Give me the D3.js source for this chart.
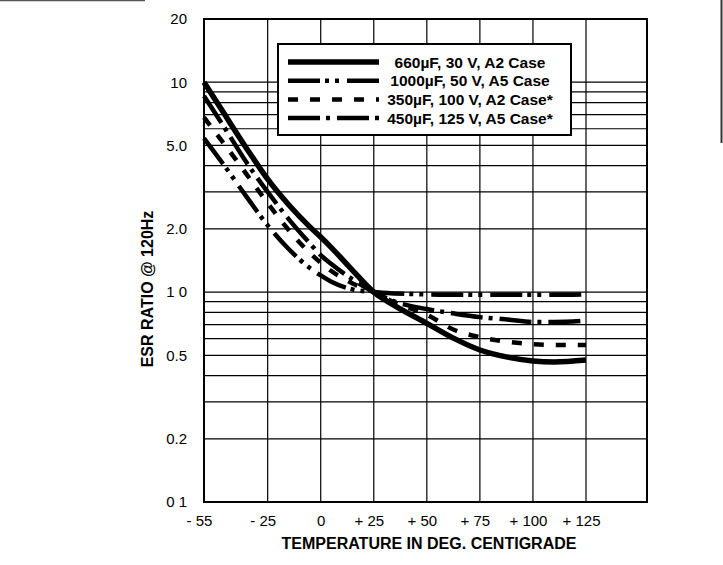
<!DOCTYPE html>
<html>
<head>
<meta charset="utf-8">
<script src="https://cdn.jsdelivr.net/npm/d3@7"></script>
<style>
  body { margin: 0; background: #fff; }
  svg { display: block; font-family: Arial, "Liberation Sans", Helvetica, sans-serif; }
</style>
</head>
<body>
<svg id="chart" width="723" height="565"></svg>
<script>
"use strict";

// values
const temperatures = [-55, -45, -35, -25, -15, -5, 0, 5, 15, 25, 35, 50, 63, 75, 88, 100, 110, 125];
const esr660 = [10, 6.95, 4.85, 3.45, 2.6, 2.04, 1.83, 1.63, 1.27, 1.0, 0.86, 0.71, 0.6, 0.53, 0.49, 0.47, 0.465, 0.475];
const esr1000 = [5.4, 3.95, 2.85, 2.08, 1.6, 1.3, 1.2, 1.12, 1.03, 1.0, 0.985, 0.975, 0.97, 0.97, 0.97, 0.97, 0.97, 0.975];
const esr350 = [6.8, 5.0, 3.65, 2.65, 1.97, 1.53, 1.38, 1.26, 1.1, 1.0, 0.89, 0.78, 0.66, 0.61, 0.58, 0.565, 0.56, 0.56];
const esr450 = [8.6, 6.0, 4.15, 3.0, 2.22, 1.7, 1.5, 1.36, 1.15, 1.0, 0.9, 0.83, 0.79, 0.76, 0.74, 0.72, 0.72, 0.73];

const seriesNames = [
    "660\u00b5F, 30 V, A2 Case",
    "1000\u00b5F, 50 V, A5 Case",
    "350\u00b5F, 100 V, A2 Case*",
    "450\u00b5F, 125 V, A5 Case*",
];

const xTicks = [-55, -25, 0, 25, 50, 75, 100, 125];
const xTickLabels = ["- 55", "- 25", "0", "+ 25", "+ 50", "+ 75", "+ 100", "+ 125"];
const yTicks = [20, 10, 5, 2, 1, 0.5, 0.2, 0.1];
const yTickLabels = ["20", "10", "5.0", "2.0", "1 0", "0.5", "0.2", "0 1"];
const yGrid = [0.2, 0.3, 0.4, 0.5, 0.6, 0.7, 0.8, 0.9, 1, 2, 3, 4, 5, 6, 7, 8, 9, 10];

const series = [esr660, esr1000, esr350, esr450];
const styles = [
    { width: 5.5, dash: null },
    { width: 4.5, dash: "32,5,4,6,4,8" },
    { width: 4.5, dash: "10,12" },
    { width: 4.5, dash: "32,6,4,7" },
];

const svg = d3.select("#chart");

const x = d3.scaleLinear().domain([-55, 125]).range([204, 586]);
const y = d3.scaleLog().domain([0.1, 20]).range([502, 19]);
const plotLeft = x(-55), plotRight = x(125) + 61, plotTop = y(20), plotBottom = y(0.1);

// grid
svg.append("g")
    .selectAll("line")
    .data(yGrid)
    .join("line")
    .attr("x1", plotLeft).attr("x2", plotRight)
    .attr("y1", d => y(d)).attr("y2", d => y(d))
    .attr("stroke", "#000").attr("stroke-width", 1.2);

svg.append("g")
    .selectAll("line")
    .data(xTicks.slice(1))
    .join("line")
    .attr("x1", d => x(d)).attr("x2", d => x(d))
    .attr("y1", plotTop).attr("y2", plotBottom)
    .attr("stroke", "#000").attr("stroke-width", 1.2);

svg.append("rect")
    .attr("x", plotLeft).attr("y", plotTop)
    .attr("width", plotRight - plotLeft).attr("height", plotBottom - plotTop)
    .attr("fill", "none").attr("stroke", "#000").attr("stroke-width", 2);

// axes (labels only)
const yAxis = svg.append("g")
    .attr("transform", `translate(${plotLeft},0)`)
    .call(d3.axisLeft(y).tickValues(yTicks).tickFormat((d, i) => yTickLabels[i]).tickSize(0).tickPadding(17));
yAxis.select(".domain").remove();
yAxis.attr("font-family", null);
yAxis.selectAll("text").attr("font-size", 15).attr("fill", "#000");

const xAxis = svg.append("g")
    .attr("transform", `translate(0,${plotBottom})`)
    .call(d3.axisBottom(x).tickValues(xTicks).tickFormat((d, i) => xTickLabels[i]).tickSize(0).tickPadding(13));
xAxis.select(".domain").remove();
xAxis.attr("font-family", null);
xAxis.selectAll("text")
    .attr("font-size", 15).attr("fill", "#000")
    .attr("dx", (d, i) => xTickLabels[i].length > 1 ? -5 : 0);

// curves
const line = d3.line()
    .x((d, i) => x(temperatures[i]))
    .y(d => y(d))
    .curve(d3.curveMonotoneX);

series.forEach((values, i) => {
    svg.append("path")
        .attr("fill", "none")
        .attr("stroke", "#000")
        .attr("stroke-width", styles[i].width)
        .attr("stroke-dasharray", styles[i].dash)
        .attr("d", line(values));
});

// legend
const legend = svg.append("g");
legend.append("rect")
    .attr("x", 278).attr("y", 44).attr("width", 293).attr("height", 91)
    .attr("fill", "#fff").attr("stroke", "#000").attr("stroke-width", 2);

const rows = legend.selectAll("g.row")
    .data(seriesNames)
    .join("g")
    .attr("class", "row")
    .attr("transform", (d, i) => `translate(0,${62 + i * 18.7})`);

rows.append("line")
    .attr("x1", 288).attr("x2", 379)
    .attr("stroke", "#000")
    .attr("stroke-width", (d, i) => styles[i].width)
    .attr("stroke-dasharray", (d, i) => styles[i].dash);

rows.append("text")
    .attr("x", 470).attr("dy", "0.36em")
    .attr("text-anchor", "middle")
    .attr("font-size", 15.5).attr("font-weight", "bold")
    .text(d => d);

// titles
svg.append("text")
    .attr("x", 429).attr("y", 549)
    .attr("text-anchor", "middle")
    .attr("font-size", 16).attr("font-weight", "bold")
    .text("TEMPERATURE IN DEG. CENTIGRADE");

svg.append("text")
    .attr("transform", "translate(153,289) rotate(-90)")
    .attr("text-anchor", "middle")
    .attr("font-size", 16).attr("font-weight", "bold")
    .text("ESR RATIO @ 120Hz");

// scan edges
svg.append("line").attr("x1", 0).attr("x2", 145).attr("y1", 0.5).attr("y2", 0.5)
    .attr("stroke", "#555").attr("stroke-width", 1.5);
svg.append("line").attr("x1", 721.5).attr("x2", 721.5).attr("y1", 0).attr("y2", 143)
    .attr("stroke", "#333").attr("stroke-width", 2);
</script>
</body>
</html>
